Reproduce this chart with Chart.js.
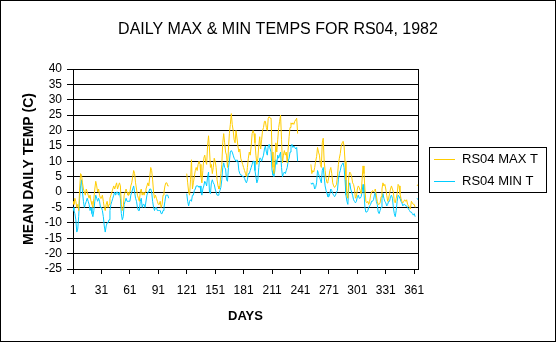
<!DOCTYPE html>
<html>
<head>
<meta charset="utf-8">
<title>RS04 1982</title>
<script src="https://cdn.jsdelivr.net/npm/chart.js@4.4.0/dist/chart.umd.min.js"></script>
<style>
  html, body { margin: 0; padding: 0; background: #fff; }
  canvas { display: block; }
</style>
</head>
<body>
<canvas id="chartTemps" width="556" height="342"></canvas>
<script>
// day-of-year tick positions and y range
const dayTicks = [1, 31, 61, 91, 121, 151, 181, 211, 241, 271, 301, 331, 361];
const tempMin = -25;
const tempMax = 40;
const chartTitle = "DAILY MAX & MIN TEMPS FOR RS04, 1982";

// daily maximum, days 1..365 (null = no record)
const maxTemps = [
  -3, -4, -2, -3, -5, -4, -6, 1, 6, 5.5,
  3, 1, 0, -1, 1, 0, -1, -2, -1, -3,
  -4, -5, -2, 1, 3.5, 2, 0, 1, -1, -2,
  -2, -1, -3, -5, -6, -4, -3, -5, -4, -2,
  -1, 0, 1, 2, 1, 2, 3, 1, 2, 3,
  2, -4, -6, -5, -1, 0, 1, 0, -1, -1,
  0, 2, 3, 5, 7, 6, 3, 1, -1, -2,
  -3, 0, 1, -1, 0, -1, 0, 1, 2, 3,
  2, 5, 8, 7, 4, 0, -2, -1, -2, -3,
  -4, -4, -3, -5, -4, -1, 0, 2, 3, 3,
  2, 2, null, null, null, null, null, null, null, null,
  null, null, null, null, null, null, null, null, null, null,
  6, 3, 0, -1, 4, 10.5, 1, 3, 5, 7,
  8, 7, 9, 10, 9, 5, 3, 7, 11, 12,
  10, 9, 15, 18.3, 14, 8, 9, 6, 8, 11,
  10, 8, 4, 2, 1, 2, 6, 9, 16, 19,
  16, 13, 12, 8, 14, 19, 22, 25.5, 22, 20,
  17, 16, 20, 20, 15, 13, 14, 11, 10, 9,
  8, 7, 6, 5, 8, 11, 13, 12, 15, 19,
  20, 19, 16, 12, 9, 11, 15, 18, 14, 17,
  20, 21, 23, 23, 21, 20, 24, 24.5, 24, 24,
  13, 8, 6, 10, 16, 13, 17, 21, 23, 25,
  17, 9.5, 12, 13.5, 12, 13, 9.5, 14, 18, 21,
  22.5, 22, 22.5, 22, 23, 23.5, 24, 19, null, null,
  null, null, null, null, null, null, null, null, null, null,
  null, 9, 6, 7, 6.5, 8, 10, 11.5, 14.5, 13,
  12, 9, 8, 16, 17.5, 10, 7, 4.5, 3, 3.5,
  5, 7, 8, 6, 3, 2, 1.5, 2, 2.5, 5,
  9, 11, 12.5, 15, 16, 16.5, 15, 10, 4, -1,
  -2, 5, 6.5, 6, 5, 3, 2.5, 1, -2, -1.5,
  1, 2, 1.5, 0.5, -0.5, 4, 8.5, 6, 1, -3,
  -3.5, -3, -4, -3, -1, 0, 0.5, 0, 0.5, 1,
  -1, -3, -4, -4, -3.5, -1.5, 1, 3, 2, 2.5,
  1, -1, -3, -2, -0.5, 1, 2, 1, 0, -3,
  -3.5, -2, -0.5, 2.5, 2, -0.5, -2, -3, -3.5, -3,
  -2.5, -3, -2.5, -4, -4.5, -5, -5.5, -3, -3.5, -4,
  -4, -5, null, 2, 2.5
];

// daily minimum, days 1..365
const minTemps = [
  -5, -6, -7, -9, -13, -12, -8, -2, 2, 4,
  0, -3, -5, -4, -3, -2, -3, -4, -6, -5,
  -7, -8, -6, -3, -1, -2, -3, -2, -3, -5,
  -5, -6, -8, -11, -13, -11, -10, -10, -9, -6,
  -4, -3, -2, -1, 0, -1, 0, 0, -1, 0,
  -2, -7, -9, -8, -4, -3, -2, -3, -3, -3,
  -3, -1, 0, 1, 2, 0, -2, -3, -5, -6,
  -6, -3, -2, -5, -4, -4, -5, -5, -1, 0,
  0, 1, 1, 0, -3, -5, -6, -5, -5, -6,
  -6, -6, -6, -7, -7, -6, -5, -3, -1, -1,
  -1, -2, null, null, null, null, null, null, null, null,
  null, null, null, null, null, null, null, null, null, null,
  -0.5, -3, -4.5, -3, -2.5, -3, -1, -1, 0.5, 1,
  2, 2, 2, 1.5, 2, 0, -1, 1, 2, 3.5,
  3, 2, 5, 6.5, 0, -0.5, 3, 4, 3, 2.5,
  1, 0, -1, -1, -0.5, 0.5, 1.5, 4, 8, 9.5,
  8, 7.5, 4, 3.5, 8, 10, 13, 13.5, 13, 12,
  11, 10.5, 10, 10.5, 10, 7, 6, 5.5, 5.5, 5,
  5, 4.5, 3.5, 3, 4, 6, 6, 7, 8, 9,
  10, 10, 7, 5, 3, 4, 8, 11, 11, 10,
  11, 12, 14, 15, 13, 12, 15, 15.5, 14, 13,
  7, 5.5, 5, 7, 10.5, 9, 12, 11, 12, 13,
  8, 5, 6, 6.5, 6, 7, 8, 10, 11, 13,
  15, 15.5, 14.5, 15, 14.5, 14, 14.5, 10, null, null,
  null, null, null, null, null, null, null, null, null, null,
  null, 3, 2.5, 3, 2.5, 1, 1.5, 3, 7, 6,
  5, 4, 3, 7, 8, 5, 2, 0.5, -0.5, -1.5,
  -1.5, -0.5, 1, 0.5, -0.5, -1, -1.5, -1, 0, 0.5,
  4, 6, 7, 8.5, 9, 9.5, 8, 4, -1, -3,
  -4, 2, 3, 1, 0, -1, -2.5, -3, -3.5, -3,
  -1.5, -1, -2, -2, -1.5, 0, 2.5, 0, -5, -6.5,
  -6.5, -6, -5, -4.5, -4, -3, -3, -2.5, -1, 0,
  -3, -4, -6.5, -7, -6, -5, -2, -0.5, -2, -3,
  -3.5, -4.5, -4, -3, -3, -1.5, -1, -2, -5, -7,
  -8, -6, -3, -1, -1.5, -2, -3, -3.5, -4.5, -4,
  -4, -4.5, -4.5, -5, -5.5, -6, -6.5, -6.5, -7, -7.5,
  -7, -8, null, -2, -2.5
];

const FONT = '"Liberation Sans", Arial, sans-serif';

function toPoints(values) {
  return values.map((v, i) => ({ x: i + 1, y: v }));
}

// outer frame, centred title and box round the plot area
const framePlugin = {
  id: "frame",
  beforeDatasetsDraw(chart) {
    const { ctx, chartArea: a } = chart;
    ctx.save();
    ctx.strokeStyle = "#000";
    ctx.lineWidth = 1;
    ctx.strokeRect(Math.round(a.left) + 0.5, Math.round(a.top) + 0.5,
      Math.round(a.right - a.left), Math.round(a.bottom - a.top));
    ctx.restore();
  },
  afterDraw(chart) {
    const { ctx, width, height } = chart;
    ctx.save();
    ctx.strokeStyle = "#000";
    ctx.lineWidth = 1;
    ctx.strokeRect(0.5, 0.5, width - 1, height - 1);
    ctx.fillStyle = "#000";
    ctx.font = "16px " + FONT;
    ctx.textAlign = "center";
    ctx.textBaseline = "middle";
    ctx.fillText(chartTitle, width / 2, 30);
    ctx.restore();
  }
};

// boxed legend to the right of the plot
const legendBox = {
  id: "legendBox",
  afterDraw(chart) {
    const { ctx } = chart;
    const x = 429, y = 147, w = 117, h = 45;
    ctx.save();
    ctx.fillStyle = "#fff";
    ctx.fillRect(x, y, w, h);
    ctx.strokeStyle = "#000";
    ctx.lineWidth = 1;
    ctx.strokeRect(x + 0.5, y + 0.5, w, h);
    ctx.font = "13px " + FONT;
    ctx.textBaseline = "middle";
    ctx.textAlign = "left";
    chart.data.datasets.forEach((ds, i) => {
      const rowY = 159.5 + i * 22;
      ctx.strokeStyle = ds.borderColor;
      ctx.beginPath();
      ctx.moveTo(434, rowY);
      ctx.lineTo(455, rowY);
      ctx.stroke();
      ctx.fillStyle = "#000";
      ctx.fillText(ds.label, 462, rowY);
    });
    ctx.restore();
  }
};

function init() {
  Chart.defaults.font.family = FONT;
  Chart.defaults.color = "#000";

  new Chart(document.getElementById("chartTemps"), {
    type: "line",
    data: {
      datasets: [
        { label: "RS04 MAX T", data: toPoints(maxTemps), borderColor: "#FFCC00", borderWidth: 1, pointRadius: 0, tension: 0 },
        { label: "RS04 MIN T", data: toPoints(minTemps), borderColor: "#00CCFF", borderWidth: 1, pointRadius: 0, tension: 0 }
      ]
    },
    options: {
      responsive: false,
      animation: false,
      devicePixelRatio: 1,
      layout: { padding: { left: 0, top: 69, right: 138, bottom: 0 } },
      plugins: {
        legend: { display: false },
        tooltip: { enabled: false },
        title: { display: false }
      },
      scales: {
        x: {
          type: "linear",
          min: 1,
          max: 365,
          afterBuildTicks: (scale) => { scale.ticks = dayTicks.map((v) => ({ value: v })); },
          afterFit: (scale) => { scale.height = 73; },
          ticks: { autoSkip: false, maxRotation: 0, padding: 9, font: { size: 12 } },
          grid: { drawOnChartArea: false, drawTicks: true, tickLength: 5, color: "#000" },
          border: { display: true, color: "#000" },
          title: { display: true, text: "DAYS", font: { size: 13, weight: "bold" }, padding: { top: 0, bottom: 18 } }
        },
        y: {
          min: tempMin,
          max: tempMax,
          afterFit: (scale) => { scale.width = 73; },
          ticks: { stepSize: 5, maxTicksLimit: 20, autoSkip: false, padding: 5, font: { size: 12 } },
          grid: { color: "#000", drawTicks: true, tickLength: 6 },
          border: { display: true, color: "#000" },
          title: { display: true, text: "MEAN DAILY TEMP (C)", font: { size: 14, weight: "bold" }, padding: { top: 21 } }
        }
      }
    },
    plugins: [framePlugin, legendBox]
  });
}

if (document.readyState === "loading") {
  document.addEventListener("DOMContentLoaded", init);
} else {
  init();
}
</script>
</body>
</html>
